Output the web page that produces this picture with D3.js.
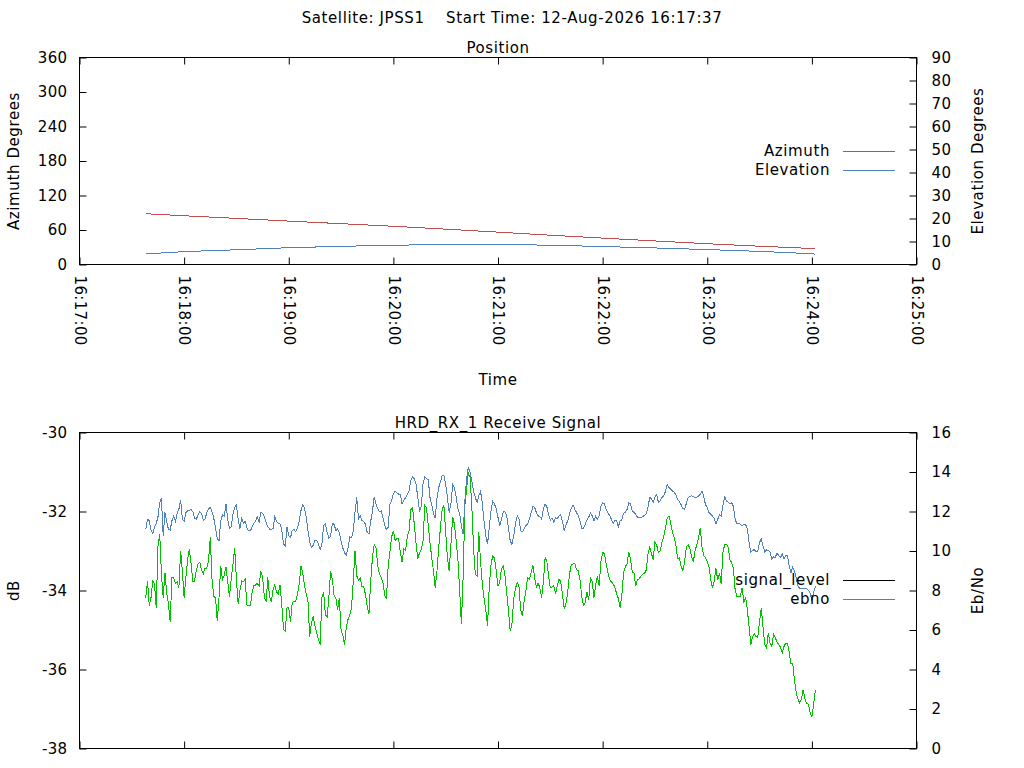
<!DOCTYPE html>
<html>
<head>
<meta charset="utf-8">
<script src="https://cdn.jsdelivr.net/npm/d3@7"></script>
<style>
body { margin: 0; background: #fff; }
text { font-family: "DejaVu Sans", sans-serif; font-size: 15px; fill: #000; letter-spacing: 0.6px; white-space: pre; }
text.tick-num { letter-spacing: 0.35px; }
</style>
</head>
<body>
<svg width="1024" height="768"></svg>
<script>
// chart text
var mainTitle = 'Satellite: JPSS1    Start Time: 12-Aug-2026 16:17:37';
var posTitle = 'Position';
var sigTitle = 'HRD_RX_1 Receive Signal';

// time axis: 16:17:00 to 16:25:00
var axisStart = new Date(Date.UTC(2026, 7, 12, 16, 17, 0));
var axisEnd = new Date(Date.UTC(2026, 7, 12, 16, 25, 0));

// position samples, seconds after 16:17:00
var posSeconds = [38, 60, 90, 120, 150, 180, 210, 240, 270, 300, 330, 360, 390, 420, 422];
var azimuth = [88.3, 84.8, 80.2, 75.5, 71.0, 66.5, 61.5, 56.3, 51.0, 45.9, 41.0, 36.1, 31.8, 27.9, 27.6];
var elevation = [4.6, 5.6, 6.4, 7.3, 7.9, 8.4, 8.65, 8.7, 8.4, 7.8, 7.2, 6.5, 5.7, 4.7, 4.5];

var azTicks = [0, 60, 120, 180, 240, 300, 360];
var elTicks = [0, 10, 20, 30, 40, 50, 60, 70, 80, 90];
var dbTicks = [-38, -36, -34, -32, -30];
var ebTicks = [0, 2, 4, 6, 8, 10, 12, 14, 16];

// receive signal, one sample per second starting 16:17:38
var signalFirst = 38;
var ebno = [
11.11,11.61,11.53,11.06,10.89,11.19,11.39,11.73,12.46,12.66,
10.77,11.95,11.50,11.09,11.06,11.53,11.77,11.50,11.90,12.12,
12.58,11.61,11.50,11.94,12.04,12.07,12.09,11.99,11.65,11.61,
11.82,12.00,11.90,11.55,11.61,11.94,12.12,12.21,11.99,11.66,
11.19,10.63,10.51,11.53,11.83,11.78,12.38,11.60,11.16,11.22,
11.87,12.21,12.34,11.61,11.11,11.70,11.39,11.51,11.19,11.02,
11.02,11.22,11.39,11.53,11.73,11.44,11.95,11.90,11.75,11.44,
11.24,11.11,11.09,11.14,11.73,11.50,11.41,11.36,11.07,10.34,
10.26,11.22,10.77,10.68,11.04,11.11,10.97,11.16,11.50,12.04,
12.33,12.21,11.70,11.06,10.48,10.17,10.28,10.53,10.55,10.38,
10.06,10.31,11.31,11.36,10.94,10.65,10.73,11.38,11.36,11.04,
11.11,10.94,10.48,10.16,9.90,9.80,10.17,10.72,10.68,11.02,
11.95,12.71,11.61,11.80,11.55,11.48,11.36,10.94,10.85,11.50,
12.02,12.75,12.38,12.14,11.99,12.02,11.70,11.33,11.09,11.19,
12.38,12.55,12.88,13.02,12.95,12.88,12.85,
12.38,12.55,12.71,12.88,13.05,13.56,13.76,13.65,13.39,12.71,
12.00,12.29,13.39,13.76,13.65,13.61,12.71,12.33,11.92,11.65,
12.68,13.22,13.49,13.81,13.83,13.39,12.71,11.95,12.38,13.36,
13.19,12.75,12.12,11.90,11.28,10.85,12.55,13.65,14.24,13.98,
13.53,13.02,12.71,12.46,12.80,13.02,12.41,11.50,10.77,10.34,
11.22,12.04,12.51,12.38,12.12,11.70,11.29,11.61,11.99,11.99,
11.77,11.16,10.51,10.34,10.75,11.36,11.78,11.65,11.02,10.97,
11.14,11.29,11.38,11.61,11.95,12.24,12.21,11.95,11.78,11.75,
11.61,12.12,12.36,12.24,11.87,11.56,11.68,11.46,11.70,11.63,
11.78,11.83,11.48,11.02,11.33,11.53,11.87,12.17,12.34,12.12,
11.95,11.80,11.53,11.16,11.14,11.33,11.58,11.70,11.94,11.78,
11.53,11.77,11.61,11.77,12.26,12.46,12.38,12.12,11.92,11.80,
11.61,11.39,11.53,11.56,11.22,11.53,11.58,11.92,11.97,12.10,
12.43,12.38,12.04,11.95,11.85,11.70,11.70,11.70,11.75,11.80,
11.87,12.21,12.70,12.66,12.46,12.71,12.87,12.46,12.55,12.70,
12.78,13.02,13.36,13.22,13.14,13.05,12.97,12.85,12.61,12.51,
12.34,12.16,12.09,12.41,12.71,12.75,12.80,12.75,12.71,12.73,
12.78,12.87,13.02,12.75,12.34,12.21,11.95,
11.87,11.77,11.65,11.39,11.61,11.83,11.75,12.29,12.80,12.54,
12.46,12.41,12.44,12.27,11.61,11.38,11.39,11.36,11.27,11.36,
11.34,11.11,10.43,9.94,10.02,10.07,9.95,10.01,10.43,10.61,
10.26,9.95,10.06,10.04,9.95,9.60,9.70,9.68,9.89,9.77,
9.67,9.84,9.60,9.77,9.75,9.23,8.90,9.19,8.99,8.63,
8.24,8.11,8.11,8.09,8.11,8.09,8.01,7.86,7.47,7.89,8.21
];
var signalLevel = [
-34.18,-33.76,-34.39,-34.18,-33.76,-33.83,-34.44,-32.87,-32.57,-33.59,
-34.18,-33.55,-34.06,-34.33,-34.79,-33.67,-33.68,-33.82,-33.78,-33.93,
-33.00,-33.51,-34.18,-33.67,-33.21,-32.96,-33.32,-33.76,-33.76,-33.49,
-33.32,-33.29,-33.48,-33.57,-33.43,-33.44,-33.25,-32.64,-33.72,-34.15,
-34.18,-34.78,-34.18,-33.38,-33.72,-33.61,-33.40,-33.78,-34.16,-33.72,
-33.34,-32.93,-33.74,-34.35,-34.01,-33.76,-33.78,-33.72,-34.37,-34.39,
-34.38,-34.05,-33.87,-33.86,-33.82,-33.89,-33.51,-33.66,-34.16,-34.28,
-33.67,-34.16,-34.28,-33.97,-33.86,-34.04,-34.08,-33.85,-34.35,-34.99,
-35.03,-34.44,-34.44,-34.79,-34.31,-34.27,-34.27,-34.09,-33.84,-33.37,
-33.57,-33.85,-34.08,-34.24,-35.18,-34.83,-34.66,-34.88,-35.06,-35.24,
-35.37,-34.18,-34.04,-34.61,-34.68,-34.18,-33.51,-33.72,-34.12,-34.19,
-34.50,-34.20,-34.99,-35.13,-35.38,-34.93,-34.73,-34.62,-34.44,-33.76,
-33.00,-33.63,-33.74,-33.69,-33.91,-33.91,-34.10,-34.40,-34.59,-33.76,
-33.17,-32.83,-32.91,-33.36,-33.57,-33.67,-33.80,-34.11,-34.22,-33.38,
-33.04,-32.64,-32.49,-32.73,-32.68,-32.68,-33.04,
-33.28,-32.95,-32.99,-32.63,-32.49,-31.96,-31.91,-32.32,-32.81,-33.21,
-33.04,-32.97,-32.74,-31.85,-31.91,-32.34,-32.79,-33.17,-33.51,-33.93,
-33.51,-32.91,-32.40,-31.94,-31.85,-32.53,-33.17,-33.51,-32.83,-32.13,
-32.32,-32.74,-33.21,-33.97,-34.86,-33.67,-31.85,-31.43,-31.03,-31.13,
-31.88,-32.95,-33.59,-33.63,-32.53,-33.27,-33.84,-34.20,-34.48,-34.90,
-33.89,-33.34,-33.12,-33.18,-33.51,-33.89,-33.78,-33.44,-33.38,-33.62,
-34.06,-34.52,-35.03,-34.86,-34.22,-33.95,-33.80,-33.89,-34.48,-34.65,
-34.27,-34.01,-33.67,-33.72,-33.55,-33.35,-33.67,-33.91,-33.81,-33.93,
-34.18,-33.80,-33.17,-33.25,-33.63,-33.93,-33.91,-33.88,-34.08,-33.89,
-33.71,-33.78,-34.12,-34.46,-34.33,-34.04,-33.59,-33.35,-33.33,-33.31,
-33.48,-33.49,-33.72,-34.14,-34.38,-34.31,-34.03,-34.25,-33.67,-33.76,
-34.18,-33.87,-33.63,-33.89,-33.27,-33.04,-33.06,-33.31,-33.53,-33.73,
-33.78,-33.83,-33.91,-34.08,-34.20,-34.43,-34.13,-33.55,-33.40,-33.32,
-33.02,-33.21,-33.53,-33.56,-33.89,-33.72,-33.71,-33.63,-33.59,-33.57,
-33.48,-33.08,-32.90,-33.06,-33.23,-32.76,-32.85,-33.04,-33.00,-32.79,
-32.63,-32.43,-32.18,-32.11,-32.28,-32.53,-32.66,-32.83,-33.20,-33.18,
-33.39,-33.49,-33.28,-32.91,-32.84,-32.93,-33.13,-33.28,-33.00,-32.84,
-32.66,-32.42,-32.91,-33.12,-33.17,-33.26,-33.40,
-33.72,-33.93,-33.76,-33.44,-33.74,-33.55,-33.84,-33.04,-32.83,-32.83,
-32.90,-33.23,-33.29,-33.45,-33.99,-34.14,-34.14,-34.14,-33.93,-34.31,
-34.18,-34.49,-34.93,-35.37,-35.16,-35.10,-35.17,-35.18,-34.77,-34.45,
-34.94,-35.37,-35.45,-35.07,-35.33,-35.41,-35.11,-35.19,-35.31,-35.37,
-35.44,-35.58,-35.42,-35.33,-35.33,-35.56,-35.86,-35.84,-36.26,-36.58,
-36.75,-36.85,-36.74,-36.51,-36.75,-36.85,-36.88,-37.08,-37.21,-36.89,-36.51
];

var posLegend = [
    { label: 'Azimuth', color: '#c0504d' },
    { label: 'Elevation', color: '#4f81bd' }
];
var sigLegend = [
    { label: 'signal_level', color: '#000000' },
    { label: 'ebno', color: '#4f81bd' }
];

var svg = d3.select('svg');
var left = 79.5, right = 916.5;

function secToDate(s) {
    return new Date(axisStart.getTime() + s * 1000);
}

var x = d3.scaleUtc().domain([axisStart, axisEnd]).range([left, right]);
var fmt = d3.utcFormat('%H:%M:%S');
var plain = function(d) { return String(d); };

// draws frame, x ticks (both borders) and title for one panel
function drawFrame(top, bottom, title, withLabels) {
    var bx = svg.append('g').attr('transform', 'translate(0,' + bottom + ')');
    bx.call(d3.axisBottom(x).ticks(d3.utcSecond.every(20)).tickSize(-3.5).tickFormat(''));
    bx.call(d3.axisBottom(x).ticks(d3.utcMinute.every(1)).tickSize(-7).tickFormat(withLabels ? fmt : ''));
    bx.selectAll('.domain').remove();
    if (withLabels) {
        bx.selectAll('text')
            .attr('class', 'tick-num')
            .attr('x', 0)
            .attr('y', 0)
            .attr('dy', '0.35em')
            .attr('text-anchor', 'start')
            .attr('transform', 'translate(0,11) rotate(90)');
    }
    var tx = svg.append('g').attr('transform', 'translate(0,' + top + ')');
    tx.call(d3.axisTop(x).ticks(d3.utcSecond.every(20)).tickSize(-3.5).tickFormat(''));
    tx.call(d3.axisTop(x).ticks(d3.utcMinute.every(1)).tickSize(-7).tickFormat(''));
    tx.selectAll('.domain').remove();

    svg.append('rect')
        .attr('x', left).attr('y', top)
        .attr('width', right - left).attr('height', bottom - top)
        .attr('fill', 'none').attr('stroke', '#000')
        .attr('shape-rendering', 'crispEdges');

    svg.append('text')
        .attr('x', (left + right) / 2).attr('y', top - 5)
        .attr('text-anchor', 'middle')
        .text(title);
}

function drawYAxes(yl, yr, lTicks, rTicks, lLabel, rLabel, top, bottom) {
    var gl = svg.append('g').attr('transform', 'translate(' + left + ',0)')
        .call(d3.axisLeft(yl).tickValues(lTicks).tickSize(-7).tickPadding(12).tickFormat(plain));
    gl.select('.domain').remove();
    gl.selectAll('text').attr('class', 'tick-num');
    var gr = svg.append('g').attr('transform', 'translate(' + right + ',0)')
        .call(d3.axisRight(yr).tickValues(rTicks).tickSize(-7).tickPadding(15).tickFormat(plain));
    gr.select('.domain').remove();
    gr.selectAll('text').attr('class', 'tick-num');
    var mid = (top + bottom) / 2;
    svg.append('text')
        .attr('transform', 'translate(19,' + mid + ') rotate(-90)')
        .attr('text-anchor', 'middle').text(lLabel);
    svg.append('text')
        .attr('transform', 'translate(983,' + mid + ') rotate(-90)')
        .attr('text-anchor', 'middle').text(rLabel);
}

function drawLegend(items, y0) {
    items.forEach(function(d, i) {
        var y = y0 + i * 19;
        svg.append('text')
            .attr('x', 830).attr('y', y)
            .attr('dy', '0.35em')
            .attr('text-anchor', 'end')
            .text(d.label);
        svg.append('line')
            .attr('x1', 843).attr('x2', 895)
            .attr('y1', y + 0.5).attr('y2', y + 0.5)
            .attr('stroke', d.color);
    });
}

// main title
svg.append('text')
    .attr('x', 512).attr('y', 23)
    .attr('text-anchor', 'middle')
    .text(mainTitle);

// ---- Position panel ----
var pTop = 57.5, pBottom = 264.5;
var yAz = d3.scaleLinear().domain([0, 360]).range([pBottom, pTop]);
var yEl = d3.scaleLinear().domain([0, 90]).range([pBottom, pTop]);

drawFrame(pTop, pBottom, posTitle, true);
drawYAxes(yAz, yEl, azTicks, elTicks, 'Azimuth Degrees', 'Elevation Degrees', pTop, pBottom);

svg.append('text')
    .attr('x', (left + right) / 2).attr('y', 385)
    .attr('text-anchor', 'middle')
    .text('Time');

var azLine = d3.line()
    .x(function(d, i) { return x(secToDate(posSeconds[i])); })
    .y(function(d) { return yAz(d); });
var elLine = d3.line()
    .x(function(d, i) { return x(secToDate(posSeconds[i])); })
    .y(function(d) { return yEl(d); });

svg.append('path').datum(azimuth)
    .attr('d', azLine).attr('fill', 'none')
    .attr('stroke', posLegend[0].color).attr('stroke-width', 1)
    .attr('shape-rendering', 'crispEdges');
svg.append('path').datum(elevation)
    .attr('d', elLine).attr('fill', 'none')
    .attr('stroke', posLegend[1].color).attr('stroke-width', 1)
    .attr('shape-rendering', 'crispEdges');

drawLegend(posLegend, 151);

// ---- Receive signal panel ----
var sTop = 432.5, sBottom = 748.5;
var yDb = d3.scaleLinear().domain([-38, -30]).range([sBottom, sTop]);
var yEb = d3.scaleLinear().domain([0, 16]).range([sBottom, sTop]);

drawFrame(sTop, sBottom, sigTitle, false);
drawYAxes(yDb, yEb, dbTicks, ebTicks, 'dB', 'Eb/No', sTop, sBottom);

var sigX = function(d, i) { return x(secToDate(signalFirst + i)); };

svg.append('path').datum(signalLevel)
    .attr('d', d3.line().x(sigX).y(function(d) { return yDb(d); }))
    .attr('fill', 'none').attr('stroke', '#00c000').attr('stroke-width', 1)
    .attr('shape-rendering', 'crispEdges');
svg.append('path').datum(ebno)
    .attr('d', d3.line().x(sigX).y(function(d) { return yEb(d); }))
    .attr('fill', 'none').attr('stroke', sigLegend[1].color).attr('stroke-width', 1)
    .attr('shape-rendering', 'crispEdges');

drawLegend(sigLegend, 580);
</script>
</body>
</html>
